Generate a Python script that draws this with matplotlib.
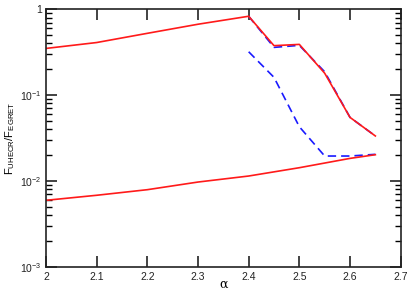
import numpy as np
import matplotlib
matplotlib.use("Agg")
import matplotlib.pyplot as plt
from matplotlib.ticker import FixedLocator, FixedFormatter, NullFormatter

plt.rcParams["font.family"] = ["Liberation Sans", "DejaVu Sans"]
plt.rcParams["mathtext.default"] = "regular"

# upper red curve (solid)
alpha_up = [2.0, 2.1, 2.2, 2.3, 2.4, 2.45, 2.5, 2.55, 2.6, 2.65]
red_up = [0.35, 0.41, 0.525, 0.67, 0.83, 0.377, 0.39, 0.18, 0.055, 0.0334]

# lower red curve (solid)
alpha_low = [2.0, 2.1, 2.2, 2.3, 2.4, 2.5, 2.6, 2.65]
red_low = [0.00594, 0.0068, 0.0079, 0.0097, 0.0114, 0.01425, 0.0183, 0.0202]

# blue dashed curves
alpha_blue = [2.4, 2.45, 2.5, 2.55, 2.6, 2.65]
blue_up = [0.83, 0.36, 0.38, 0.187, 0.055, 0.0334]
blue_low = [0.32, 0.161, 0.0428, 0.0195, 0.0195, 0.0204]

fig = plt.figure(figsize=(4.15, 2.91), dpi=100)
ax = fig.add_axes([0.1108, 0.0835, 0.8547, 0.8845])

ax.plot(alpha_blue, blue_up, color="#1a1aff", lw=1.2, dashes=(5, 3))
ax.plot(alpha_blue, blue_low, color="#1a1aff", lw=1.2, dashes=(5, 3))
ax.plot(alpha_up, red_up, color="#ff1a1a", lw=1.2)
ax.plot(alpha_low, red_low, color="#ff1a1a", lw=1.2)

ax.set_yscale("log")
ax.set_xlim(2.0, 2.7)
ax.set_ylim(1e-3, 1)

ax.xaxis.set_major_locator(FixedLocator(np.arange(2.0, 2.71, 0.1)))
ax.set_xticklabels(["2", "2.1", "2.2", "2.3", "2.4", "2.5", "2.6", "2.7"])
ax.yaxis.set_major_locator(FixedLocator([1e-3, 1e-2, 1e-1, 1]))
ax.yaxis.set_major_formatter(FixedFormatter(["$10^{-3}$", "$10^{-2}$", "$10^{-1}$", "1"]))
minors = [m * 10.0 ** e for e in (-3, -2, -1) for m in range(2, 10)]
ax.yaxis.set_minor_locator(FixedLocator(minors))
ax.yaxis.set_minor_formatter(NullFormatter())

ax.tick_params(which="major", direction="in", length=8, width=1.2,
               top=True, right=True, labelsize=7.5, pad=3, colors="#222222")
ax.tick_params(which="minor", direction="in", length=4, width=1.0,
               top=False, right=True)
ax.tick_params(axis="x", which="major", pad=4)
for s in ax.spines.values():
    s.set_linewidth(1.2)
    s.set_color("#222222")

ax.set_xlabel("α", fontsize=9, family=["DejaVu Serif"])
ax.xaxis.set_label_coords(0.5, -0.042)
ax.xaxis.label.set_verticalalignment("top")
ax.set_ylabel("$F_{UHECR}/F_{EGRET}$", fontsize=8, labelpad=2)

fig.savefig("out.png", dpi=100)
